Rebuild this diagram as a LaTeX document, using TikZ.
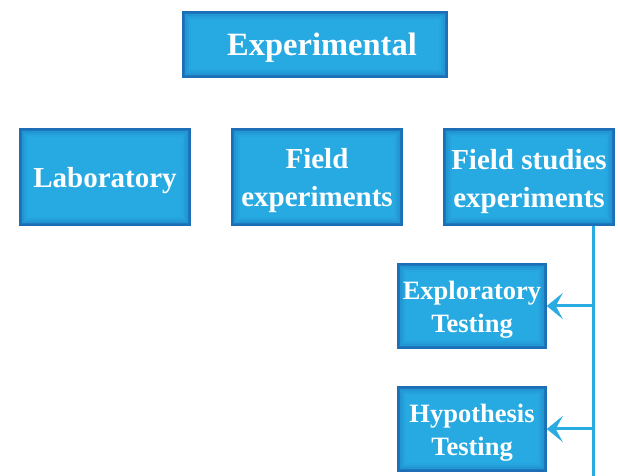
\documentclass[tikz,border=0pt]{standalone}
\usepackage{fontspec}
\setmainfont{Liberation Serif}
\usetikzlibrary{arrows.meta}
\definecolor{boxblue}{HTML}{27AAE1}
\definecolor{edgeblue}{HTML}{1C6FB6}
\definecolor{midblue}{HTML}{2190D0}
\definecolor{lineblue}{HTML}{2AABE2}
\newcommand\shifttxt[2]{\raisebox{#1}[\height][\depth]{\begin{tabular}{@{}c@{}}#2\end{tabular}}}
\tikzset{
  glowbox/.style={fill=boxblue, draw=edgeblue, line width=1.5pt,
    text=white, font=\bfseries, inner sep=0pt,
    path picture={
      \foreach \d/\c in {1/edgeblue!85!boxblue, 3/midblue!80!boxblue, 5/midblue!45!boxblue, 7/midblue!20!boxblue}{
        \draw[\c, line width=2.2pt] ([shift={(\d pt,\d pt)}]path picture bounding box.south west)
          rectangle ([shift={(-\d pt,-\d pt)}]path picture bounding box.north east);
      }
    }},
  bigbox/.style={glowbox, minimum width=170pt, minimum height=96pt,
    font=\bfseries\fontsize{29}{38}\selectfont},
  smallbox/.style={glowbox, minimum width=148pt, minimum height=84pt,
    font=\bfseries\fontsize{26.5}{33}\selectfont},
  link/.style={lineblue, line width=3pt},
  arrowlink/.style={link, -{Stealth[length=16pt,width=26pt,inset=7pt]}}
}
\begin{document}
\begin{tikzpicture}[x=1pt,y=1pt]
\useasboundingbox (0,0) rectangle (618,476);
\node[glowbox, minimum width=264pt, minimum height=65pt,
  font=\bfseries\fontsize{32.5}{38}\selectfont] (exp) at (315,431.5)
  {\hspace*{14pt}\shifttxt{-3pt}{Experimental}};
\node[bigbox] (lab) at (105,299) {\shifttxt{-3pt}{Laboratory}};
\node[bigbox] (fexp) at (317,299) {\shifttxt{-3pt}{Field\\experiments}};
\node[bigbox] (fstud) at (529,299) {\shifttxt{-4pt}{Field studies\\experiments}};
\node[smallbox] (explo) at (472,170) {\shifttxt{-3pt}{Exploratory\\Testing}};
\node[smallbox] (hyp) at (472,47) {\shifttxt{-3pt}{Hypothesis\\Testing}};
\coordinate (trunkend) at (593,0);
\draw[link] (fstud.south -| trunkend) -- (trunkend);
\draw[arrowlink] (explo.east -| trunkend) -- (explo.east);
\draw[arrowlink] (hyp.east -| trunkend) -- (hyp.east);
\end{tikzpicture}
\end{document}
